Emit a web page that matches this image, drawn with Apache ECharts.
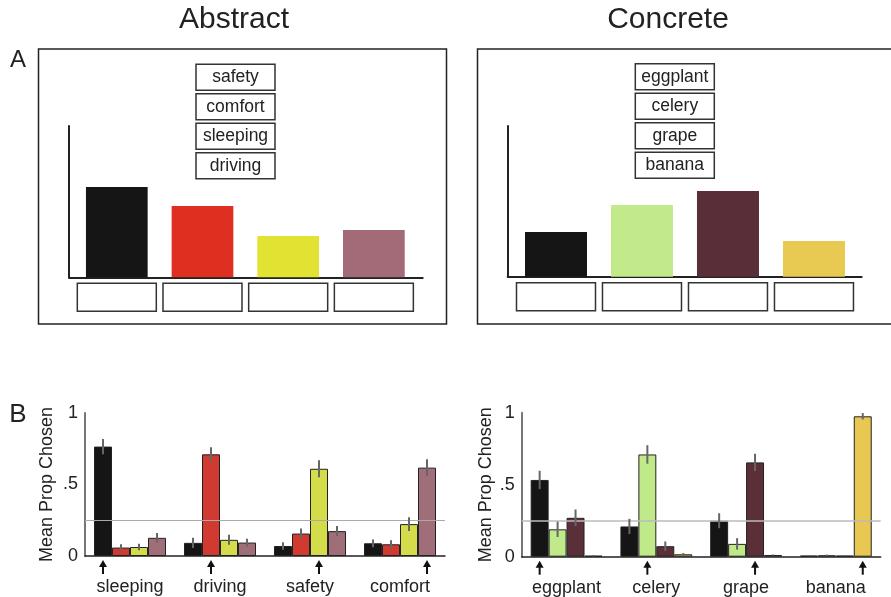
<!DOCTYPE html>
<html>
<head>
<meta charset="utf-8">
<script src="https://cdn.jsdelivr.net/npm/echarts@6/dist/echarts.min.js"></script>
<style>html,body{margin:0;padding:0;background:#fff;}#c{width:891px;height:597px;}</style>
</head>
<body>
<div id="c"></div>
<script>
// ---------- DATA ----------
const abstractCats = ['sleeping', 'driving', 'safety', 'comfort'];
const concreteCats = ['eggplant', 'celery', 'grape', 'banana'];

// Panel A word lists (display order in the boxes)
const abstractWords = ['safety', 'comfort', 'sleeping', 'driving'];
const concreteWords = ['eggplant', 'celery', 'grape', 'banana'];

// Panel A schematic bar heights
const abstractSketch = [0.597, 0.471, 0.273, 0.313];
const concreteSketch = [0.297, 0.476, 0.569, 0.237];

// Panel B abstract: mean proportion chosen per option colour, per cue word
const absBlack  = [0.765, 0.092, 0.070, 0.089];
const absRed    = [0.059, 0.711, 0.157, 0.082];
const absYellow = [0.063, 0.113, 0.610, 0.223];
const absMauve  = [0.127, 0.094, 0.174, 0.618];
const absBlackErr  = [0.053, 0.036, 0.027, 0.027];
const absRedErr    = [0.023, 0.050, 0.035, 0.028];
const absYellowErr = [0.023, 0.035, 0.059, 0.048];
const absMauveErr  = [0.033, 0.027, 0.035, 0.058];

// Panel B concrete
const conBlack  = [0.533, 0.210, 0.250, 0.008];
const conGreen  = [0.190, 0.710, 0.089, 0.010];
const conMaroon = [0.270, 0.073, 0.655, 0.008];
const conGold   = [0.007, 0.017, 0.012, 0.975];
const conBlackErr  = [0.064, 0.053, 0.052, 0.004];
const conGreenErr  = [0.053, 0.064, 0.040, 0.005];
const conMaroonErr = [0.058, 0.033, 0.060, 0.004];
const conGoldErr   = [0.005, 0.008, 0.003, 0.022];

// index of the correct option for each cue (arrow)
const abstractTargets = [0, 1, 2, 3];
const concreteTargets = [0, 1, 2, 3];

const chanceLevel = 0.25;
const yTicks = {0: '0', 0.5: '.5', 1: '1'};

// ---------- STYLE ----------
const FONT = 'Liberation Sans, Arial, Helvetica, sans-serif';
const TXT = '#222';
const absColorsA = ['#151515', '#de2f20', '#e2e232', '#a36a77'];
const conColorsA = ['#151515', '#c2ea8a', '#5a2e38', '#e8ca52'];
const absColorsB = ['#151515', '#d13a31', '#d5dc4a', '#a06e78'];
const conColorsB = ['#151515', '#c0e98a', '#5a2f38', '#e8c852'];

const chart = echarts.init(document.getElementById('c'), null, {renderer: 'canvas'});

function sketchData(vals, colors) {
  return vals.map((v, i) => ({value: [i, v], itemStyle: {color: colors[i]}}));
}
function boxRender(params, api) {
  const c = api.coord([api.value(0), 0]);
  return {type: 'rect', shape: {x: c[0] - 39.5, y: c[1] + 6, width: 79, height: 28},
    style: {fill: '#fff', stroke: '#333', lineWidth: 1.5}};
}
function errRender(params, api) {
  const cat = api.value(0), s = api.value(1), v = api.value(2), e = api.value(3);
  const c = api.coord([cat, v]);
  const band = api.size([1, 0])[0];
  const bw = band * 0.8 / 4;
  const x = c[0] + (s - 1.5) * bw;
  const top = api.coord([cat, v + e])[1];
  const bot = api.coord([cat, Math.max(0, v - e)])[1];
  return {type: 'line', shape: {x1: x, y1: top, x2: x, y2: bot}, style: {stroke: '#666', lineWidth: 2}};
}
function arrowRender(params, api) {
  const cat = api.value(0), t = api.value(1);
  const c = api.coord([cat, 0]);
  const band = api.size([1, 0])[0];
  const bw = band * 0.8 / 4;
  const x = c[0] + (t - 1.5) * bw;
  const y0 = c[1];
  return {type: 'group', children: [
    {type: 'polygon', shape: {points: [[x, y0 + 4], [x - 4, y0 + 11], [x + 4, y0 + 11]]}, style: {fill: '#111'}},
    {type: 'line', shape: {x1: x, y1: y0 + 10, x2: x, y2: y0 + 18}, style: {stroke: '#111', lineWidth: 2}}
  ]};
}
function errData(errsByOpt, meansByOpt) {
  const out = [];
  meansByOpt.forEach((m, s) => m.forEach((v, i) => out.push([i, s, v, errsByOpt[s][i]])));
  return out;
}
function barSeries(vals, color, xi) {
  return {type: 'bar', xAxisIndex: xi, yAxisIndex: xi, data: vals, barGap: '0%', barCategoryGap: '20%', z: 3,
    itemStyle: {color: color, borderColor: '#222', borderWidth: 1}, silent: true};
}

const absMeans = [absBlack, absRed, absYellow, absMauve];
const absErrs = [absBlackErr, absRedErr, absYellowErr, absMauveErr];
const conMeans = [conBlack, conGreen, conMaroon, conGold];
const conErrs = [conBlackErr, conGreenErr, conMaroonErr, conGoldErr];

const sketchX = (min, max) => ({type: 'value', min: min, max: max, axisLabel: {show: false}, axisTick: {show: false},
  splitLine: {show: false}, axisLine: {show: true, onZero: false, lineStyle: {color: '#222', width: 2}}});
const sketchY = (gi) => ({type: 'value', gridIndex: gi, min: 0, max: 1, axisLabel: {show: false}, axisTick: {show: false},
  splitLine: {show: false}, axisLine: {show: true, onZero: false, lineStyle: {color: '#222', width: 2}}});
const catX = (gi, cats) => ({type: 'category', gridIndex: gi, data: cats, axisTick: {show: false},
  axisLine: {show: true, lineStyle: {color: '#222', width: 1.5}},
  axisLabel: {interval: 0, hideOverlap: false, fontFamily: FONT, fontSize: 18, color: TXT, margin: 22}});
const valY = (gi, gap) => ({type: 'value', gridIndex: gi, min: 0, max: 1, interval: 0.5,
  axisTick: {show: false}, splitLine: {show: false},
  axisLine: {show: true, onZero: false, lineStyle: {color: '#777', width: 2}},
  axisLabel: {fontFamily: FONT, fontSize: 18, color: TXT, margin: 7, formatter: v => yTicks[v] !== undefined ? yTicks[v] : ''},
  name: 'Mean Prop Chosen', nameLocation: 'middle', nameGap: gap,
  nameTextStyle: {fontFamily: FONT, fontSize: 18, color: TXT}});

const graphics = [];
// outer panel A frames
graphics.push({type: 'rect', shape: {x: 38.5, y: 49, width: 408, height: 275}, style: {fill: 'none', stroke: '#222', lineWidth: 1.5}, z: 1});
graphics.push({type: 'rect', shape: {x: 477.5, y: 49, width: 420, height: 275}, style: {fill: 'none', stroke: '#222', lineWidth: 1.5}, z: 1});
// titles and panel letters
graphics.push({type: 'text', x: 234, y: 20, style: {text: 'Abstract', font: '30px ' + FONT, fill: TXT, textAlign: 'center', textVerticalAlign: 'middle'}});
graphics.push({type: 'text', x: 668, y: 20, style: {text: 'Concrete', font: '30px ' + FONT, fill: TXT, textAlign: 'center', textVerticalAlign: 'middle'}});
graphics.push({type: 'text', x: 18, y: 60, style: {text: 'A', font: '24px ' + FONT, fill: TXT, textAlign: 'center', textVerticalAlign: 'middle'}});
graphics.push({type: 'text', x: 18, y: 415, style: {text: 'B', font: '26px ' + FONT, fill: TXT, textAlign: 'center', textVerticalAlign: 'middle'}});
// word boxes
function wordBoxes(words, cx, y0) {
  words.forEach((w, i) => {
    const y = y0 + i * 29.5;
    graphics.push({type: 'rect', shape: {x: cx - 39.5, y: y, width: 79, height: 26}, style: {fill: '#fff', stroke: '#333', lineWidth: 1.5}, z: 2});
    graphics.push({type: 'text', x: cx, y: y + 13, style: {text: w, font: '17.5px ' + FONT, fill: TXT, textAlign: 'center', textVerticalAlign: 'middle'}, z: 3});
  });
}
wordBoxes(abstractWords, 235.5, 64.3);
wordBoxes(concreteWords, 674.8, 63.7);

const option = {
  animation: false,
  backgroundColor: '#fff',
  grid: [
    {left: 69, top: 126, width: 353.7, height: 151.3},
    {left: 507.7, top: 126, width: 354, height: 150.7},
    {left: 85, top: 413, width: 360, height: 143},
    {left: 521.7, top: 412.7, width: 359, height: 144}
  ],
  xAxis: [
    Object.assign(sketchX(-0.558, 3.57), {gridIndex: 0}),
    Object.assign(sketchX(-0.5616, 3.555), {gridIndex: 1}),
    catX(2, abstractCats),
    catX(3, concreteCats)
  ],
  yAxis: [sketchY(0), sketchY(1), valY(2, 29), valY(3, 27)],
  graphic: graphics,
  series: [
    {type: 'bar', xAxisIndex: 0, yAxisIndex: 0, barWidth: 61.7, data: sketchData(abstractSketch, absColorsA), silent: true},
    {type: 'bar', xAxisIndex: 1, yAxisIndex: 1, barWidth: 62, data: sketchData(concreteSketch, conColorsA), silent: true},
    {type: 'custom', xAxisIndex: 0, yAxisIndex: 0, renderItem: boxRender, clip: false, data: abstractSketch.map((v, i) => [i]), encode: {x: 0}, silent: true},
    {type: 'custom', xAxisIndex: 1, yAxisIndex: 1, renderItem: boxRender, clip: false, data: concreteSketch.map((v, i) => [i]), encode: {x: 0}, silent: true},
    // chance lines
    {type: 'line', xAxisIndex: 2, yAxisIndex: 2, data: [], z: 1,
      markLine: {silent: true, symbol: 'none', label: {show: false}, lineStyle: {color: '#aaa', width: 1, type: 'solid'}, data: [{yAxis: chanceLevel}]}},
    {type: 'line', xAxisIndex: 3, yAxisIndex: 3, data: [], z: 1,
      markLine: {silent: true, symbol: 'none', label: {show: false}, lineStyle: {color: '#bbb', width: 1.5, type: 'solid'}, data: [{yAxis: chanceLevel}]}},
    ...absMeans.map((m, s) => barSeries(m, absColorsB[s], 2)),
    ...conMeans.map((m, s) => barSeries(m, conColorsB[s], 3)),
    {type: 'custom', xAxisIndex: 2, yAxisIndex: 2, renderItem: errRender, data: errData(absErrs, absMeans), encode: {x: 0, y: 2}, z: 5, silent: true},
    {type: 'custom', xAxisIndex: 3, yAxisIndex: 3, renderItem: errRender, data: errData(conErrs, conMeans), encode: {x: 0, y: 2}, z: 5, silent: true},
    {type: 'custom', xAxisIndex: 2, yAxisIndex: 2, renderItem: arrowRender, clip: false, data: abstractTargets.map((t, i) => [i, t]), encode: {x: 0}, silent: true},
    {type: 'custom', xAxisIndex: 3, yAxisIndex: 3, renderItem: arrowRender, clip: false, data: concreteTargets.map((t, i) => [i, t]), encode: {x: 0}, silent: true}
  ]
};
chart.setOption(option);
</script>
</body>
</html>
